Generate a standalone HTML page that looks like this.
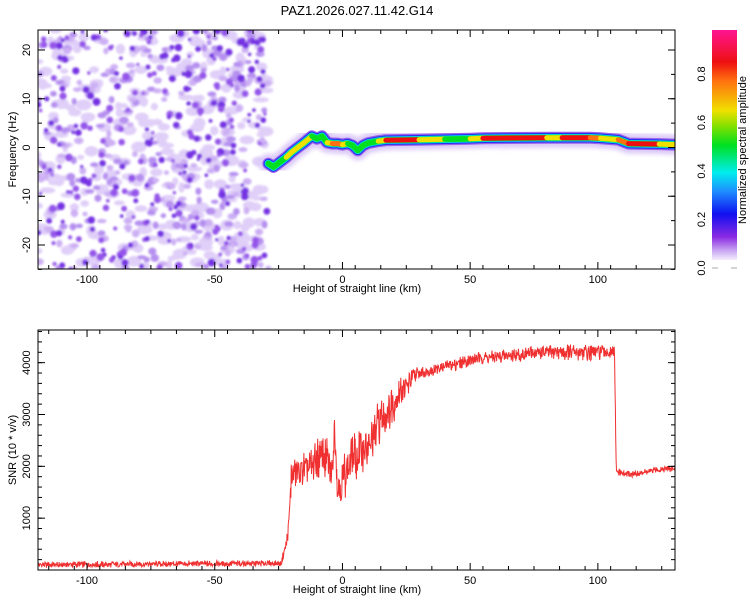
<!DOCTYPE html>
<html><head><meta charset="utf-8"><style>
body{margin:0;background:#fff;}
svg text{font-family:"Liberation Sans",sans-serif;fill:#000;}
</style></head><body>
<svg id="root" width="750" height="600" xmlns="http://www.w3.org/2000/svg">
<defs>
<linearGradient id="cbar" x1="0" y1="1" x2="0" y2="0">
<stop offset="0" stop-color="#f4eefc"/><stop offset="0.04" stop-color="#c9a8f2"/><stop offset="0.1" stop-color="#8a2be2"/>
<stop offset="0.2" stop-color="#1010f0"/><stop offset="0.3" stop-color="#1e90ff"/><stop offset="0.38" stop-color="#00eeee"/>
<stop offset="0.5" stop-color="#00e020"/><stop offset="0.58" stop-color="#80e000"/><stop offset="0.65" stop-color="#f0e000"/>
<stop offset="0.78" stop-color="#ff7010"/><stop offset="0.86" stop-color="#ee1010"/><stop offset="1" stop-color="#ff1493"/>
</linearGradient>
<filter id="blur1"><feGaussianBlur stdDeviation="1.1"/></filter>
<filter id="blur2"><feGaussianBlur stdDeviation="2"/></filter>
<clipPath id="clipTop"><rect x="38" y="30" width="637" height="239"/></clipPath>
<clipPath id="clipBot"><rect x="38" y="330" width="637" height="240"/></clipPath>
</defs>
<text x="357" y="15" font-size="13" text-anchor="middle">PAZ1.2026.027.11.42.G14</text>
<g id="topPanel"></g>
<g id="botPanel"></g>
<g id="cb">
<rect x="712" y="30" width="25" height="230" fill="url(#cbar)"/>
<text transform="translate(746,150) rotate(-90)" font-size="11" text-anchor="middle">Normalized spectral amplitude</text>
</g>
</svg>
<script>
// ---- data ----
const ridgeH = [-29,-27,-25,-22,-20,-17,-15,-12,-10,-8,-6,-4,-2,0,2,4,6,8,10,14,17,30,40,50,55,80,84,86,97,101,108,112,124,130];
const ridgeF = [-3.3,-4,-3.2,-2,-1,0.2,1,2.3,1.8,2.3,1,0.8,0.8,0.6,0.8,0.4,-0.6,0.4,0.9,1.3,1.5,1.6,1.7,1.8,1.9,2,2,2,2,1.9,1.6,0.8,0.7,0.6];
const ridgeA = [0.5,0.6,0.6,0.65,0.65,0.7,0.7,0.65,0.6,0.6,0.6,0.85,0.85,0.85,0.55,0.6,0.7,0.55,0.55,0.6,0.88,0.88,0.6,0.62,0.88,0.88,0.62,0.88,0.88,0.7,0.7,0.88,0.88,0.6];
const snrH = [-119,-24,-22,-21,-20,-18,-16,-14,-12,-10,-8,-6,-4,-3,-2,0,2,4,6,8,10,12,14,16,18,20,22,24,26,28,30,34,38,42,46,50,55,60,65,70,75,80,85,90,95,100,106.5,107.2,110,115,120,125,130];
const snrV = [100,130,500,850,1850,1850,1900,1950,2000,2100,2200,2100,1900,2800,1600,1700,2000,2200,2150,2400,2300,2500,2850,2900,3100,3200,3400,3500,3600,3750,3800,3850,3900,3950,4000,4050,4100,4100,4150,4150,4200,4200,4200,4200,4200,4200,4200,1900,1850,1850,1900,1950,1950];
const snrSpread = [70,70,150,200,400,400,400,400,450,500,500,500,500,550,500,500,500,550,550,550,550,550,550,500,500,450,350,300,250,200,160,150,150,150,150,150,150,150,160,160,160,170,180,200,200,200,150,90,80,70,70,70,70];
const xTicks = [-100,-50,0,50,100];
const fTicks = [-20,-10,0,10,20];
const snrTicks = [1000,2000,3000,4000];
const cbTicks = ["0.0","0.2","0.4","0.6","0.8"];
// ---- scales ----
const XMIN=-119.2,XMAX=130.2,L=38,R=675;
const sx=h=>L+(h-XMIN)/(XMAX-XMIN)*(R-L);
const sf=f=>147.5-f*4.875;
const ss=v=>570-v*(240/4630);
const NS='http://www.w3.org/2000/svg';
function mk(tag,attrs,parent){const e=document.createElementNS(NS,tag);for(const k in attrs)e.setAttribute(k,attrs[k]);parent.appendChild(e);return e;}
function interp(H,V,h){if(h<=H[0])return V[0];for(let i=1;i<H.length;i++){if(h<=H[i]){const t=(h-H[i-1])/(H[i]-H[i-1]);return V[i-1]+t*(V[i]-V[i-1]);}}return V[V.length-1];}
function colorOf(a){const s=[[0,'#f4eefc'],[0.1,'#8a2be2'],[0.2,'#1010f0'],[0.38,'#00eeee'],[0.5,'#00e020'],[0.65,'#f0e000'],[0.78,'#ff7010'],[0.86,'#ee1010'],[1,'#ff1493']];let c=s[0][1];for(const p of s)if(a>=p[0])c=p[1];return c;}
const topG=document.getElementById('topPanel'),botG=document.getElementById('botPanel');
// ---- noise blobs (texture) ----
const noiseG=mk('g',{'clip-path':'url(#clipTop)',filter:'url(#blur1)'},topG);


let seed=7;const rnd=()=>{seed=(seed*16807)%2147483647;return seed/2147483647;};
const NX=sx(-29);
for(let i=0;i<300;i++){const x=38+rnd()*(NX-38),y=30+rnd()*240;mk('ellipse',{cx:x,cy:y,rx:3+rnd()*5,ry:2.5+rnd()*3,fill:'#e0cff8'},noiseG);}
for(let i=0;i<280;i++){const x=38+rnd()*(NX-38),y=30+rnd()*240;mk('ellipse',{cx:x,cy:y,rx:2.5+rnd()*2.5,ry:2+rnd()*2,fill:rnd()<0.5?'#b690f0':'#cdb0f4'},noiseG);}
for(let i=0;i<280;i++){const x=38+rnd()*(NX-38),y=30+rnd()*240;mk('circle',{cx:x,cy:y,r:1.6+rnd()*2.4,fill:rnd()<0.5?'#7530e3':'#9455ea'},noiseG);}
// ---- ridge ----
const ridgeG=mk('g',{'clip-path':'url(#clipTop)'},topG);


const pts=ridgeH.map((h,i)=>sx(h)+','+sf(ridgeF[i])).join(' ');
const halo=mk('polyline',{points:pts,fill:'none',stroke:'#dccaf7','stroke-width':20,'stroke-linejoin':'round','stroke-linecap':'round',filter:'url(#blur2)'},ridgeG);


[[12,'#9a60ec'],[9.5,'#2030f0'],[7.5,'#00d8f0'],[6,'#10e040']].forEach(([w,c])=>{
 const p=mk('polyline',{points:pts,fill:'none',stroke:c,'stroke-width':w,'stroke-linejoin':'round','stroke-linecap':'round'},ridgeG);
 
 
});
for(let i=1;i<ridgeH.length;i++){
 const a=(ridgeA[i-1]+ridgeA[i])/2;
 const seg=mk('line',{x1:sx(ridgeH[i-1]),y1:sf(ridgeF[i-1]),x2:sx(ridgeH[i]),y2:sf(ridgeF[i]),stroke:colorOf(a),'stroke-width':5,'stroke-linecap':'round'},ridgeG);
 
 
}
// ---- axes helper ----
function axes(g,y0,y1,yTicks,ys,yMinorStep,yMin,yMax,yLabel){
 mk('rect',{x:L,y:y0,width:R-L,height:y1-y0,fill:'none',stroke:'#000','stroke-width':1},g);
 for(let h=-115;h<=130;h+=10){const x=sx(h);mk('line',{x1:x,y1:y1,x2:x,y2:y1-4,stroke:'#000'},g);mk('line',{x1:x,y1:y0,x2:x,y2:y0+4,stroke:'#000'},g);}
 xTicks.forEach(t=>{const x=sx(t);mk('line',{x1:x,y1:y1,x2:x,y2:y1-7,stroke:'#000'},g);mk('line',{x1:x,y1:y0,x2:x,y2:y0+7,stroke:'#000'},g);
  const tx=mk('text',{x:x,y:y1+14,'font-size':11,'text-anchor':'middle'},g);tx.textContent=t;
  
  });
 const xl=mk('text',{x:357,y:y1+23,'font-size':11,'text-anchor':'middle'},g);xl.textContent='Height of straight line (km)';
 
 
 for(let v=Math.ceil(yMin/yMinorStep)*yMinorStep;v<=yMax;v+=yMinorStep){const y=ys(v);mk('line',{x1:L,y1:y,x2:L+4,y2:y,stroke:'#000'},g);mk('line',{x1:R,y1:y,x2:R-4,y2:y,stroke:'#000'},g);}
 yTicks.forEach(t=>{const y=ys(t);mk('line',{x1:L,y1:y,x2:L+7,y2:y,stroke:'#000'},g);mk('line',{x1:R,y1:y,x2:R-7,y2:y,stroke:'#000'},g);
  const tx=mk('text',{transform:`translate(30,${y}) rotate(-90)`,'font-size':11,'text-anchor':'middle'},g);tx.textContent=t;
  
  });
 const yl=mk('text',{transform:`translate(16,${(y0+y1)/2}) rotate(-90)`,'font-size':11,'text-anchor':'middle'},g);yl.textContent=yLabel;
 
 
}
axes(topG,30,269,fTicks,sf,5,-25,24,'Frequency (Hz)');
// ---- SNR line ----
const lineG=mk('g',{'clip-path':'url(#clipBot)'},botG);
let d='',k=0;
const hsh=n=>{const s=Math.sin(n*12.9898+78.233)*43758.5453;return s-Math.floor(s);};
for(let h=XMIN;h<=XMAX;h+=0.15){
 const m=interp(snrH,snrV,h),sp=interp(snrH,snrSpread,h);
 const j=(hsh(k)-0.5)*1.4*sp+(hsh(k*0.37+5)-0.5)*0.5*sp;k++;
 d+=(d?'L':'M')+sx(h).toFixed(1)+','+ss(Math.max(0,m+j)).toFixed(1);
}
const snrPath=mk('path',{d:d,fill:'none',stroke:'#f03030','stroke-width':1},lineG);


axes(botG,330,570,snrTicks,ss,200,0,4630,'SNR (10 * v/v)');
// ---- colorbar ticks ----
const cb=document.getElementById('cb');
cbTicks.forEach((t,i)=>{const y=268-i*48.5;
 const tx=mk('text',{transform:`translate(705,${y}) rotate(-90)`,'font-size':11,'text-anchor':'middle'},cb);tx.textContent=t;
 
 });
mk('line',{x1:712,y1:268,x2:718,y2:268,stroke:'#aaa'},cb);mk('line',{x1:731,y1:268,x2:737,y2:268,stroke:'#aaa'},cb);
</script>
</body></html>
